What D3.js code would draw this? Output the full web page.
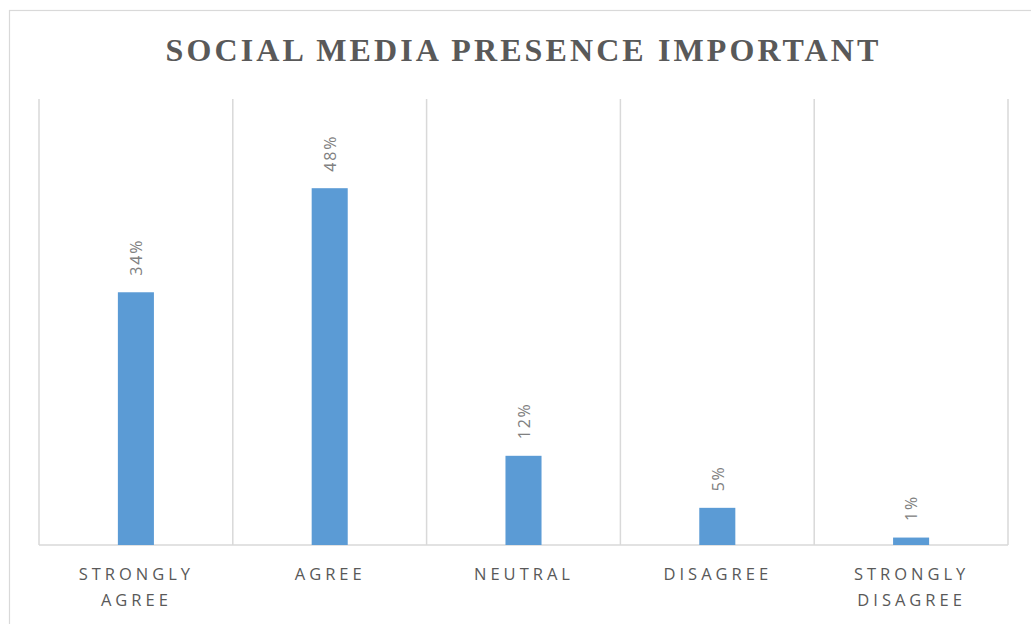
<!DOCTYPE html>
<html>
<head>
<meta charset="utf-8">
<script src="https://cdn.jsdelivr.net/npm/d3@7"></script>
<style>
  html, body { margin: 0; padding: 0; background: #fff; }
  svg { display: block; }
</style>
</head>
<body>
<svg id="chart" width="1031" height="624"></svg>
<script>
// Survey responses: share of respondents per answer
const categories = [["STRONGLY", "AGREE"], ["AGREE"], ["NEUTRAL"], ["DISAGREE"], ["STRONGLY", "DISAGREE"]];
const values = [34, 48, 12, 5, 1];
const valueLabels = ["34%", "48%", "12%", "5%", "1%"];
const title = "SOCIAL MEDIA PRESENCE IMPORTANT";

const W = 1031, H = 624;
const plot = { left: 39, right: 1008, top: 99, bottom: 545 };

const svg = d3.select("#chart");

// outer chart frame
svg.append("rect")
  .attr("x", 9.5).attr("y", 10.5)
  .attr("width", W).attr("height", H)
  .attr("fill", "#fff")
  .attr("stroke", "#d9d9d9").attr("stroke-width", 1.2);

const keys = categories.map((c, i) => i);
const x = d3.scaleBand().domain(keys).range([plot.left, plot.right]).paddingInner(0).paddingOuter(0);
const y = d3.scaleLinear().domain([0, 60]).range([plot.bottom, plot.top]);

// category separators
const edges = keys.map(k => x(k)).concat([plot.right]);
svg.append("g").selectAll("line").data(edges).join("line")
  .attr("x1", d => d).attr("x2", d => d)
  .attr("y1", plot.top).attr("y2", plot.bottom)
  .attr("stroke", "#d9d9d9").attr("stroke-width", 1.5);

// baseline
svg.append("line")
  .attr("x1", plot.left).attr("x2", plot.right)
  .attr("y1", plot.bottom).attr("y2", plot.bottom)
  .attr("stroke", "#d9d9d9").attr("stroke-width", 1.5);

// bars
const barW = x.bandwidth() * 0.186;
svg.append("g").selectAll("rect").data(values).join("rect")
  .attr("x", (d, i) => x(i) + x.bandwidth() / 2 - barW / 2)
  .attr("y", d => y(d))
  .attr("width", barW)
  .attr("height", d => plot.bottom - y(d))
  .attr("fill", "#5b9bd5");

// value labels, rotated
svg.append("g").selectAll("text").data(values).join("text")
  .attr("transform", (d, i) => `translate(${x(i) + x.bandwidth() / 2 + 0.5},${y(d) - 16.5}) rotate(-90)`)
  .attr("dy", "0.36em")
  .attr("text-anchor", "start")
  .attr("font-family", "'Open Sans', sans-serif")
  .attr("font-size", 16)
  .attr("letter-spacing", 1.8)
  .attr("fill", "#808080")
  .text((d, i) => valueLabels[i]);

// category labels
const catG = svg.append("g");
categories.forEach((lines, i) => {
  const cx = x(i) + x.bandwidth() / 2 + 0.5;
  const t = catG.append("text")
    .attr("text-anchor", "middle")
    .attr("font-family", "'Open Sans', sans-serif")
    .attr("font-size", 16.5)
    .attr("letter-spacing", 4)
    .attr("fill", "#595959");
  lines.forEach((s, j) => {
    t.append("tspan")
      .attr("x", cx)
      .attr("y", 579.5 + j * 26.6)
      .text(s);
  });
});

// title
svg.append("text")
  .attr("x", 523.5)
  .attr("y", 61)
  .attr("text-anchor", "middle")
  .attr("font-family", "'Liberation Serif', 'Times New Roman', serif")
  .attr("font-weight", "bold")
  .attr("font-size", 32)
  .attr("letter-spacing", 3.1)
  .attr("fill", "#595959")
  .text(title);
</script>
</body>
</html>
